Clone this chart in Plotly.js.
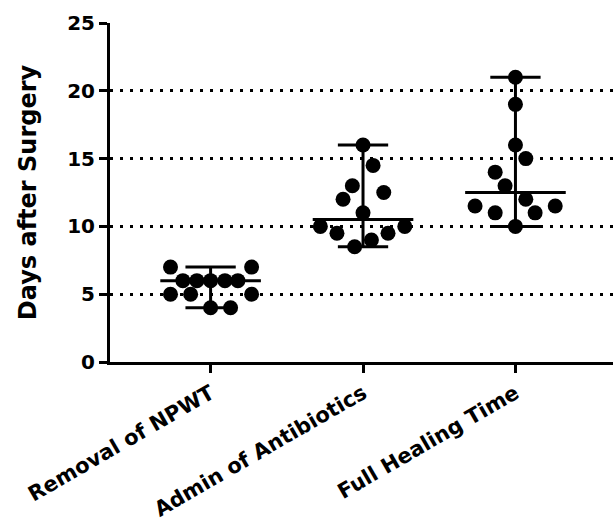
<!DOCTYPE html>
<html>
<head>
<meta charset="utf-8">
<script src="https://cdn.plot.ly/plotly-3.0.1.min.js"></script>
<style>html,body{margin:0;padding:0;background:#fff;}</style>
</head>
<body>
<div id="chart" style="width:613px;height:525px;"></div>
<script>
// Data
const categories = ["Removal of NPWT", "Admin of Antibiotics", "Full Healing Time"];
const removalNPWT = [7, 7, 6, 6, 6, 6, 6, 5, 5, 5, 4, 4];
const adminAntibiotics = [16, 14.5, 13, 12.5, 12, 11, 10, 10, 9.5, 9.5, 9, 8.5];
const fullHealing = [21, 19, 16, 15, 14, 13, 12, 11.5, 11.5, 11, 11, 10];
// horizontal scatter offsets (category units) of each dot, as seen in the reference
const spread1 = [-0.263, 0.269, -0.182, -0.09, 0, 0.094, 0.179, -0.263, -0.131, 0.269, 0, 0.131];
const spread2 = [0, 0.066, -0.07, 0.136, -0.131, 0, -0.28, 0.274, -0.171, 0.164, 0.055, -0.055];
const spread3 = [0, 0, 0, 0.068, -0.133, -0.068, 0.068, -0.265, 0.261, -0.133, 0.129, 0];
const yTicks = [0, 5, 10, 15, 20, 25];

const groups = [removalNPWT, adminAntibiotics, fullHealing];
const spreads = [spread1, spread2, spread3];

function median(a) {
  const s = a.slice().sort((p, q) => p - q);
  const n = s.length;
  return n % 2 ? s[(n - 1) / 2] : (s[n / 2 - 1] + s[n / 2]) / 2;
}

const traces = [];
const FONT = "DejaVu Sans, Arial, sans-serif";
groups.forEach((vals, i) => {
  traces.push({
    type: "scatter", mode: "markers",
    x: vals.map((v, j) => i + spreads[i][j]), y: vals,
    marker: {color: "#000", size: 15, line: {width: 0}},
    hoverinfo: "y", showlegend: false
  });
  const med = median(vals), lo = Math.min(...vals), hi = Math.max(...vals);
  const mw = 0.33, cw = 0.165;
  traces.push({
    type: "scatter", mode: "lines",
    x: [i - mw, i + mw, null, i, i, null, i - cw, i + cw, null, i - cw, i + cw],
    y: [med, med, null, lo, hi, null, lo, lo, null, hi, hi],
    line: {color: "#000", width: 3}, hoverinfo: "skip", showlegend: false
  });
});

const layout = {
  width: 613, height: 525,
  margin: {l: 110, r: 0, t: 23, b: 163},
  paper_bgcolor: "#fff", plot_bgcolor: "#fff",
  font: {family: FONT, color: "#000", size: 18},
  xaxis: {
    range: [-0.66, 2.64],
    tickvals: [0, 1, 2], ticktext: categories,
    tickangle: -30,
    tickfont: {family: FONT, size: 21, color: "#000", weight: "bold"},
    ticks: "outside", ticklen: 8, tickwidth: 3, tickcolor: "#000",
    showline: true, linewidth: 3, linecolor: "#000",
    showgrid: false, zeroline: false, fixedrange: true
  },
  yaxis: {
    range: [0, 25],
    tickvals: yTicks,
    tickfont: {family: FONT, size: 20, color: "#000", weight: "bold"},
    ticks: "outside", ticklen: 8, tickwidth: 3, tickcolor: "#000",
    showline: true, linewidth: 3, linecolor: "#000",
    showgrid: true, gridcolor: "#000", gridwidth: 3, griddash: "3px,7px",
    zeroline: false, fixedrange: true,
    title: {text: "Days after Surgery", font: {family: FONT, size: 24, color: "#000", weight: "bold"}, standoff: 24}
  }
};

Plotly.newPlot("chart", traces, layout, {displayModeBar: false, staticPlot: true});
</script>
</body>
</html>
